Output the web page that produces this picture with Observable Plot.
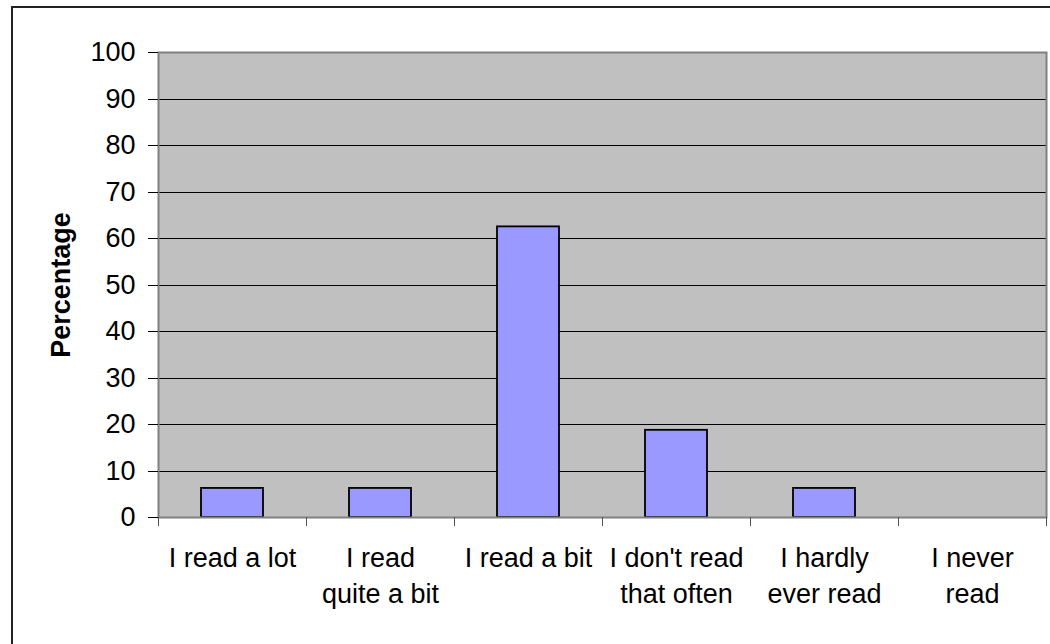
<!DOCTYPE html>
<html>
<head>
<meta charset="utf-8">
<script src="https://cdn.jsdelivr.net/npm/d3@7"></script>
<script src="https://cdn.jsdelivr.net/npm/@observablehq/plot@0.6"></script>
<style>
  html, body { margin: 0; padding: 0; background: white; overflow: hidden; }
  #chart { position: relative; width: 1050px; height: 644px; }
  #chart svg { display: block; }
  #chart svg line, #chart svg path { shape-rendering: crispEdges; }
  #border {
    position: absolute; left: 11px; top: 6px; width: 1100px; height: 700px;
    border-left: 2px solid #222; border-top: 2px solid #222; pointer-events: none;
  }
</style>
</head>
<body>
<div id="chart"><div id="border"></div></div>
<script>
// Reading habits survey: share of respondents per answer
const categories = [
  "I read a lot",
  "I read quite a bit",
  "I read a bit",
  "I don't read that often",
  "I hardly ever read",
  "I never read"
];
const tickLabels = [
  "I read a lot",
  "I read\nquite a bit",
  "I read a bit",
  "I don't read\nthat often",
  "I hardly\never read",
  "I never\nread"
];
const percentages = [6.25, 6.25, 62.5, 18.75, 6.25, 0];
const yTicks = [0, 10, 20, 30, 40, 50, 60, 70, 80, 90, 100];
const yTitle = "Percentage";

const rows = categories.map((c, i) => ({i, category: c, value: percentages[i]}));
const slots = d3.range(0, categories.length + 1);          // category boundaries
const centers = categories.map((_, i) => i + 0.5);         // label positions

const chart = Plot.plot({
  width: 1050,
  height: 644,
  marginLeft: 158,
  marginRight: 4,
  marginTop: 52,
  marginBottom: 127,
  x: {domain: [0, categories.length], axis: null},
  y: {domain: [0, 100], axis: null},
  style: {fontFamily: "'Liberation Sans', Arial, sans-serif", fontSize: "27px", color: "black", background: "transparent"},
  marks: [
    Plot.frame({fill: "#C0C0C0"}),
    Plot.gridY({ticks: yTicks.filter(t => t > 0 && t < 100), stroke: "black", strokeOpacity: 1, strokeWidth: 1}),
    Plot.rect(rows, {
      x1: "i", x2: d => d.i + 1, y1: 0, y2: "value",
      insetLeft: 43, insetRight: 43,
      fill: "#9999FF", stroke: "black", strokeWidth: 1.8
    }),
    Plot.frame({stroke: "#808080", strokeWidth: 2}),
    Plot.axisY({ticks: yTicks, tickSize: 10, tickPadding: 13, label: null, stroke: "black", fontSize: 27}),
    Plot.axisX({ticks: slots, tickSize: 9, tickFormat: () => "", label: null, stroke: "#555"}),
    Plot.axisX({
      ticks: centers, tickSize: 0, tickPadding: 23, label: null,
      tickFormat: v => tickLabels[Math.floor(v)], lineHeight: 1.36, fontSize: 27
    }),
    Plot.text([yTitle], {
      frameAnchor: "left", dx: -97, rotate: -90, textAnchor: "middle",
      fontWeight: "bold", fontSize: 27, fill: "black"
    })
  ]
});

document.getElementById("chart").prepend(chart);
</script>
</body>
</html>
